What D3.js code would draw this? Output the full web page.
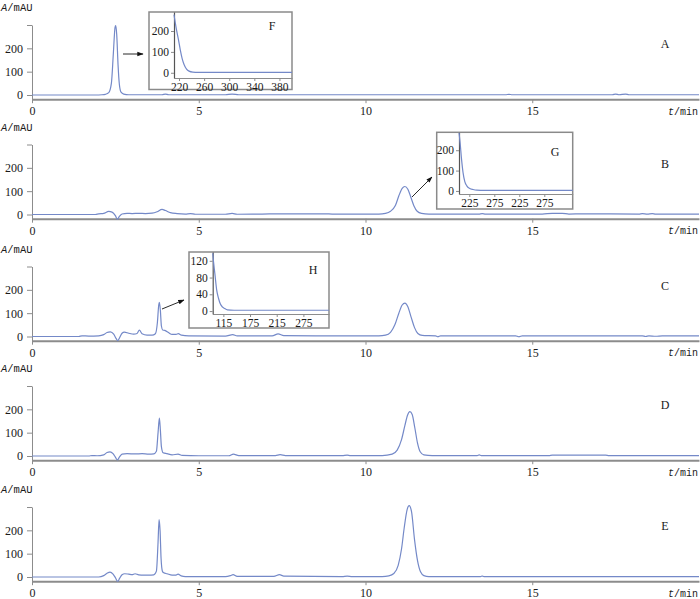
<!DOCTYPE html>
<html><head><meta charset="utf-8">
<script src="https://cdn.jsdelivr.net/npm/d3@7/dist/d3.min.js"></script>
<style>body{margin:0;background:#fff}svg{display:block}</style></head>
<body><svg id="c" width="700" height="599"></svg>
<script>
// ---------- DATA ----------
const panelLabels = ["A", "B", "C", "D", "E"];
const timeTicks = [0, 5, 10, 15];
const absTicks = [0, 100, 200, 300];
const absTickLabels = ["0", "100", "200", ""];

// [time (min), absorbance (mAU)]
const traceA = [[0,0],[1.9,0],[2.1,1],[2.2,3],[2.3,10],[2.38,50],[2.44,180],[2.49,290],[2.51,297],[2.54,260],[2.58,130],[2.62,45],[2.67,12],[2.75,4],[2.9,1],[3.5,1],[3.9,1],[4.0,4],[4.1,1],[5.8,1],[6.0,4],[6.2,1],[9.5,1],[14.2,1],[14.3,3],[14.4,1],[17.4,1],[17.5,4],[17.6,1],[17.8,4],[17.9,1],[20,1]];
const traceB = [[0,0],[1.9,0],[2.0,3],[2.15,5],[2.3,13],[2.4,10],[2.5,-5],[2.56,-20],[2.62,-8],[2.7,2],[2.85,5],[3.0,4],[3.2,5],[3.4,4],[3.6,6],[3.75,12],[3.9,22],[4.0,17],[4.15,8],[4.35,4],[4.6,2],[4.75,4],[4.9,1],[5.8,1],[6.0,5],[6.15,1],[6.9,2],[7.5,3],[8.8,3],[9.0,2],[10.4,2],[10.6,5],[10.75,14],[10.9,40],[11.0,80],[11.1,112],[11.18,120],[11.27,108],[11.35,78],[11.45,38],[11.55,14],[11.68,5],[11.9,2],[13.4,2],[13.5,4],[13.6,2],[15.3,2],[15.6,5],[15.9,5],[16.1,2],[16.5,3],[18.2,2],[18.3,4],[18.45,2],[18.6,4],[18.7,2],[20,2]];
const traceC = [[0,0],[1.4,0],[1.5,3],[1.7,2],[2.0,3],[2.15,8],[2.25,17],[2.35,20],[2.45,10],[2.52,-8],[2.57,-18],[2.63,-4],[2.7,14],[2.77,19],[2.9,14],[3.05,10],[3.15,13],[3.22,27],[3.3,12],[3.45,6],[3.6,6],[3.7,12],[3.76,60],[3.8,135],[3.82,146],[3.85,110],[3.88,45],[3.92,28],[3.98,26],[4.1,16],[4.2,9],[4.32,9],[4.39,12],[4.48,6],[4.7,3],[5.8,2],[6.02,8],[6.15,3],[7.2,3],[7.38,11],[7.55,4],[8.5,3],[10.4,3],[10.6,6],[10.75,18],[10.88,50],[11.0,100],[11.1,135],[11.18,143],[11.27,128],[11.37,82],[11.47,38],[11.57,13],[11.7,5],[12.1,3],[12.17,-1],[12.25,3],[14.5,3],[14.6,-1],[14.7,3],[18.3,3],[18.4,0],[18.5,3],[18.7,1],[18.9,3],[20,3]];
const traceD = [[0,0],[1.7,0],[1.8,2],[1.95,1],[2.15,5],[2.25,15],[2.34,18],[2.43,10],[2.5,-5],[2.56,-17],[2.62,-5],[2.7,8],[2.85,10],[3.1,9],[3.3,10],[3.5,8],[3.65,9],[3.73,20],[3.78,100],[3.82,162],[3.85,110],[3.88,40],[3.93,14],[4.05,10],[4.2,5],[4.38,8],[4.5,3],[5.0,1],[5.9,1],[6.04,8],[6.2,2],[7.3,2],[7.44,6],[7.6,2],[9.3,2],[9.45,4],[9.55,2],[10.5,2],[10.8,8],[10.95,25],[11.08,70],[11.18,130],[11.26,175],[11.33,190],[11.4,178],[11.48,120],[11.56,55],[11.64,18],[11.75,5],[12.0,2],[13.35,2],[13.41,5],[13.47,2],[15.5,2],[15.6,4],[17.2,4],[17.3,2],[20,2]];
const traceE = [[0,0],[2.0,0],[2.15,6],[2.25,16],[2.34,21],[2.43,12],[2.5,-3],[2.57,-19],[2.63,-5],[2.7,10],[2.78,14],[2.9,12],[3.0,10],[3.09,14],[3.2,9],[3.35,8],[3.5,8],[3.65,9],[3.73,25],[3.78,150],[3.81,246],[3.84,200],[3.87,80],[3.91,25],[3.95,18],[4.05,14],[4.2,8],[4.3,8],[4.38,12],[4.47,5],[4.6,2],[5.8,2],[5.95,6],[6.03,10],[6.15,3],[7.25,3],[7.42,10],[7.55,4],[9.3,2],[9.45,4],[9.6,2],[10.5,2],[10.7,5],[10.85,15],[10.98,50],[11.08,120],[11.16,210],[11.25,290],[11.31,306],[11.38,280],[11.47,160],[11.56,70],[11.65,22],[11.75,6],[11.9,2],[13.45,2],[13.5,4],[13.55,2],[20,2]];
const traces = [traceA, traceB, traceC, traceD, traceE];

// Inset F: [wavelength, absorbance]
const insetFTicks = [220, 260, 300, 340, 380];
const insetFYTicks = [0, 100, 200];
const insetF = [[212,278],[214,240],[216,205],[219,160],[222,110],[225,68],[228,40],[232,18],[236,8],[242,3],[250,1.5],[400,1.5]];
// Inset G: tick positions 1..4 carry these labels
const insetGTickLabels = ["225", "275", "225", "275"];
const insetGYTicks = [0, 100, 200];
const insetG = [[0.59,285],[0.63,240],[0.69,155],[0.75,90],[0.82,46],[0.9,25],[1.02,12],[1.15,7],[1.3,4],[1.6,3],[5.14,3]];
// Inset H
const insetHTickLabels = ["115", "175", "215", "275"];
const insetHYTicks = [0, 40, 80, 120];
const insetH = [[0.6,138],[0.63,118],[0.68,90],[0.75,50],[0.82,30],[0.88,18],[0.96,10],[1.05,6],[1.15,3],[1.4,2],[4.96,2]];

// ---------- DRAW ----------
const svg = d3.select("#c");
const LINE = "#7489c8";
const AX = "#8c8c8c";
const TXT = "#1a1a1a";
const numFont = "'Liberation Serif', serif";
const monoFont = "'Liberation Mono', monospace";

svg.append("defs").append("marker")
  .attr("id", "arr").attr("viewBox", "0 0 10 10").attr("refX", 9).attr("refY", 5)
  .attr("markerWidth", 7).attr("markerHeight", 7).attr("orient", "auto")
  .append("path").attr("d", "M0,1.5L10,5L0,8.5Z").attr("fill", "#111");

const zeros = [95, 214.5, 336.5, 456, 577];
const x = d3.scaleLinear().domain([0, 20]).range([32, 699]);
const PXU = 0.2333;

function styleAxis(g, domainW) {
  g.select(".domain").attr("stroke", AX).attr("stroke-width", domainW);
  g.selectAll(".tick line").attr("stroke", AX);
  g.selectAll(".tick text").attr("fill", TXT).attr("font-family", numFont).attr("font-size", 12);
}

panelLabels.forEach((lab, i) => {
  const z = zeros[i];
  const y = d3.scaleLinear().domain([-18, 300]).range([z + 18 * PXU, z - 300 * PXU]);
  const axisY = y(-18);
  const g = svg.append("g");

  const gx = g.append("g").attr("transform", `translate(0,${axisY})`)
    .call(d3.axisBottom(x).tickValues(timeTicks).tickSize(4).tickSizeOuter(0).tickPadding(3.5));
  styleAxis(gx, 2);

  const gy = g.append("g").attr("transform", `translate(32,0)`)
    .call(d3.axisLeft(y).tickValues(absTicks).tickFormat((d, k) => absTickLabels[k]).tickSize(5).tickSizeOuter(0).tickPadding(4));
  styleAxis(gy, 1);

  g.append("path").datum(traces[i])
    .attr("fill", "none").attr("stroke", LINE).attr("stroke-width", 1.2)
    .attr("d", d3.line().x(d => x(d[0])).y(d => y(d[1])).curve(d3.curveMonotoneX));

  const t1 = g.append("text").attr("x", 1).attr("y", z - 84)
    .attr("font-family", monoFont).attr("font-size", 10.5).attr("fill", TXT);
  t1.append("tspan").attr("font-style", "italic").text("A");
  t1.append("tspan").text("/mAU");

  const t2 = g.append("text").attr("x", 668).attr("y", axisY + 15.5)
    .attr("font-family", monoFont).attr("font-size", 10).attr("fill", TXT);
  t2.append("tspan").attr("font-style", "italic").text("t");
  t2.append("tspan").text("/min");

  g.append("text").attr("x", 665).attr("y", z - 47).attr("text-anchor", "middle")
    .attr("font-family", numFont).attr("font-size", 12).attr("fill", TXT).text(lab);
});

function drawInset(o) {
  const g = svg.append("g");
  g.append("rect").attr("x", o.box[0]).attr("y", o.box[1])
    .attr("width", o.box[2] - o.box[0]).attr("height", o.box[3] - o.box[1])
    .attr("fill", "#fff").attr("stroke", "#8a8a8a").attr("stroke-width", 1.5);
  const xs = d3.scaleLinear().domain(o.xDom).range([o.ax, o.box[2]]);
  const ys = d3.scaleLinear().domain(o.yDom).range([o.ay, o.box[1]]);
  const xa = d3.axisBottom(xs).tickValues(o.xTicks).tickSize(3).tickSizeOuter(0).tickPadding(2);
  if (o.xLabels) xa.tickFormat((d, k) => o.xLabels[k]);
  const gx = g.append("g").attr("transform", `translate(0,${o.ay})`).call(xa);
  styleAxis(gx, 1.2);
  gx.selectAll(".tick text").attr("font-size", 11.5);
  const gy = g.append("g").attr("transform", `translate(${o.ax},0)`)
    .call(d3.axisLeft(ys).tickValues(o.yTicks).tickSize(3).tickSizeOuter(0).tickPadding(2));
  styleAxis(gy, 1.2);
  gy.select(".domain").attr("stroke", "#555");
  gy.selectAll(".tick text").attr("font-size", 11.5);
  g.append("path").datum(o.data)
    .attr("fill", "none").attr("stroke", LINE).attr("stroke-width", 1.2)
    .attr("d", d3.line().x(d => xs(d[0])).y(d => ys(d[1])).curve(d3.curveMonotoneX));
  g.append("text").attr("x", o.lab[0]).attr("y", o.lab[1]).attr("text-anchor", "middle")
    .attr("font-family", numFont).attr("font-size", 12).attr("fill", TXT).text(o.letter);
}

drawInset({box: [149, 12, 292, 89.5], ax: 174, ay: 78, xDom: [212, 400], yDom: [-25, 291],
  xTicks: insetFTicks, yTicks: insetFYTicks, data: insetF, letter: "F", lab: [272, 30]});
drawInset({box: [436.7, 132.3, 572.7, 209], ax: 459, ay: 194, xDom: [0.588, 5.136], yDom: [-15, 288],
  xTicks: [1, 2, 3, 4], xLabels: insetGTickLabels, yTicks: insetGYTicks, data: insetG, letter: "G", lab: [555, 156]});
drawInset({box: [189, 252, 329, 328], ax: 212.7, ay: 314, xDom: [0.6, 4.96], yDom: [-7, 141],
  xTicks: [1, 2, 3, 4], xLabels: insetHTickLabels, yTicks: insetHYTicks, data: insetH, letter: "H", lab: [313, 274]});

const arrows = [[123, 54, 143, 54], [412, 197, 432, 177], [162, 309, 184, 300]];
arrows.forEach(a => svg.append("line").attr("x1", a[0]).attr("y1", a[1]).attr("x2", a[2]).attr("y2", a[3])
  .attr("stroke", "#111").attr("stroke-width", 0.9).attr("marker-end", "url(#arr)"));
</script></body></html>
